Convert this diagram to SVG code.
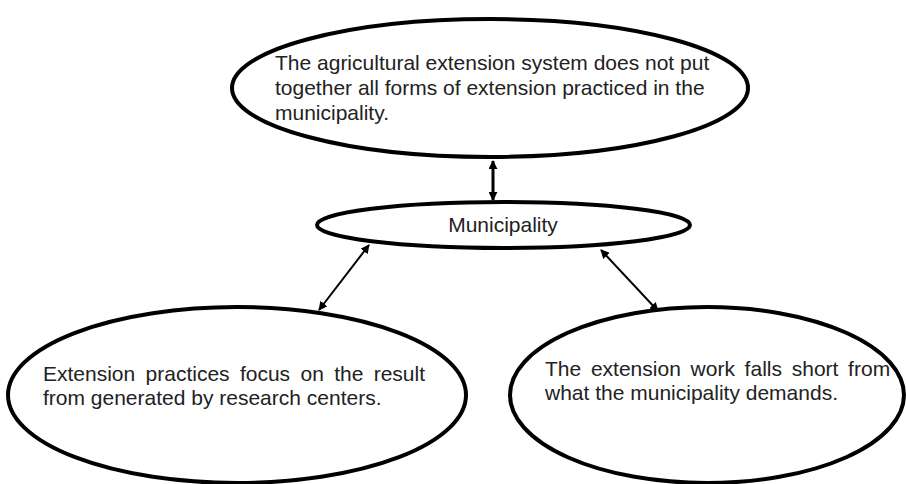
<svg xmlns="http://www.w3.org/2000/svg" width="906" height="484" viewBox="0 0 906 484">
<defs>
<style>
.node{fill:#fff;stroke:#000;stroke-width:4}
.t{font-family:"Liberation Sans",Arial,sans-serif;font-size:21px;fill:#222}
.c{stroke:#000;fill:none}
</style>
<marker id="ah" viewBox="0 0 10 10" refX="9" refY="5" markerWidth="5" markerHeight="5" orient="auto-start-reverse" markerUnits="userSpaceOnUse">
<path d="M0,0 L10,5 L0,10 z" fill="#000"/>
</marker>
<marker id="ah2" viewBox="0 0 10 10" refX="9" refY="5" markerWidth="9" markerHeight="9" orient="auto-start-reverse" markerUnits="userSpaceOnUse">
<path d="M0,0 L10,5 L0,10 z" fill="#000"/>
</marker>
</defs>
<rect width="906" height="484" fill="#fff"/>
<g id="connectors">
<line class="c" x1="493" y1="161" x2="493" y2="200" stroke-width="3" marker-start="url(#ah2)" marker-end="url(#ah2)"/>
<line class="c" x1="369" y1="245" x2="319" y2="310" stroke-width="2" marker-start="url(#ah2)" marker-end="url(#ah2)"/>
<line class="c" x1="601" y1="250" x2="658" y2="311" stroke-width="2" marker-start="url(#ah2)" marker-end="url(#ah2)"/>
</g>
<g id="node-top">
<ellipse class="node" cx="490" cy="88" rx="258" ry="69"/>
<text class="t" x="275" y="70">The agricultural extension system does not put</text>
<text class="t" x="275" y="95">together all forms of extension practiced in the</text>
<text class="t" x="275" y="120">municipality.</text>
</g>
<g id="node-municipality">
<ellipse class="node" cx="503.5" cy="225" rx="186.5" ry="23"/>
<text class="t" x="503" y="232" text-anchor="middle">Municipality</text>
</g>
<g id="node-left">
<ellipse class="node" cx="237" cy="395" rx="229" ry="88"/>
<text class="t" x="43" y="381" word-spacing="4.5">Extension practices focus on the result</text>
<text class="t" x="43" y="405">from generated by research centers.</text>
</g>
<g id="node-right">
<ellipse class="node" cx="707" cy="395" rx="197" ry="88"/>
<text class="t" x="545" y="376" word-spacing="3.9">The extension work falls short from</text>
<text class="t" x="545" y="400">what the municipality demands.</text>
</g>
</svg>
